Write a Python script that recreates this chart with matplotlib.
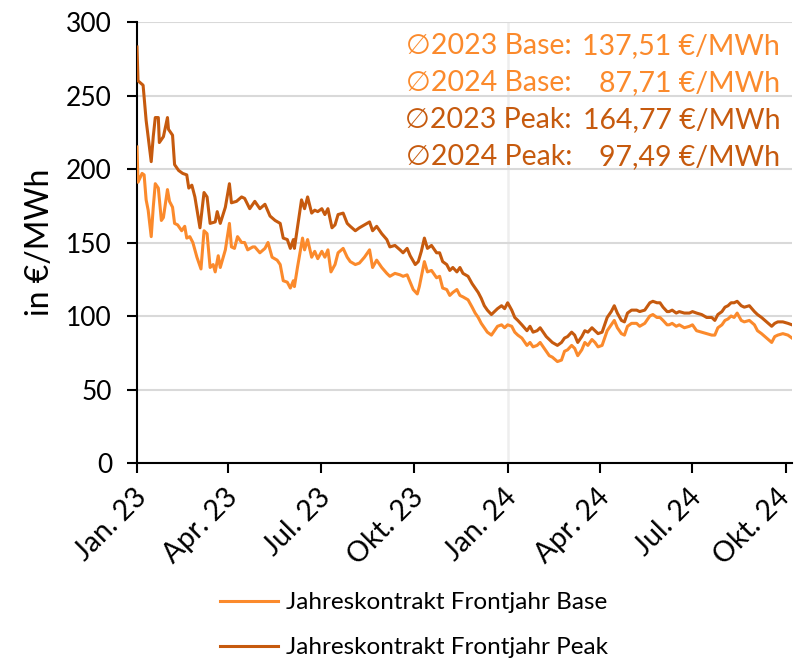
import matplotlib
matplotlib.use("Agg")
import matplotlib.pyplot as plt
import matplotlib.transforms as mtransforms
import numpy as np

# Tage seit 01.01.2023 und Preise in €/MWh
tage_peak = [0, 1, 6, 9, 14, 16, 18, 21, 22, 26, 30, 31, 35, 37, 41, 45, 49, 51, 54, 57,
             62, 66, 69, 72, 77, 79, 82, 87, 91, 93, 98, 103, 106, 111, 116, 121,
             126, 131, 136, 141, 144, 148, 151, 154, 155, 158, 162, 165, 168, 172, 175,
             178, 182, 185, 188, 192, 195, 198, 203, 207, 210, 215, 219, 224, 229, 232,
             236, 241, 246, 249, 254, 259,
             262, 266, 269, 274, 277, 280, 283, 286, 290, 295, 298, 301, 305, 308, 311,
             315, 318, 321, 326, 330, 333, 336, 339, 342, 345, 349, 352, 355, 359, 362,
             365, 369, 372, 375, 379, 384, 387,
             390, 394, 397, 400, 403, 406, 409, 414, 418, 421, 424, 428, 431, 434, 438,
             441, 444, 448, 451, 454, 458, 460, 463, 467, 470, 473, 477, 480, 483, 487, 492,
             495, 500, 505, 508, 512, 515, 518, 522, 524, 527, 531, 534, 539, 544, 547,
             551, 556, 561, 566, 569, 572, 576, 579, 582, 585, 588, 591, 595, 598, 603,
             608, 611, 615, 620, 625, 628, 631, 636, 641, 645]
peak = [283, 260, 257, 233, 205, 222, 235, 235, 218, 222, 235, 227, 223, 203, 199, 197, 196, 187, 189, 181,
        160, 184, 181, 163, 164, 171, 163, 174, 190, 177, 178, 181, 180, 173, 178, 173,
        176, 168, 165, 163, 153, 152, 146, 152, 146, 160, 179, 173, 181, 170, 172,
        171, 173, 169, 173, 160, 162, 169, 170, 163, 161, 158, 160, 162, 164, 158,
        161, 156, 152, 147, 148, 145,
        143, 146, 141, 135, 137, 144, 153, 146, 148, 143, 143, 137, 135, 131, 133,
        130, 133, 129, 127, 122, 119, 116, 112, 107, 104, 101, 103, 105, 107, 105,
        109, 104, 99, 97, 94, 90, 93,
        89, 90, 92, 89, 86, 84, 82, 80, 82, 85, 86, 89, 87, 82, 86,
        90, 89, 92, 90, 88, 89, 93, 99, 103, 107, 102, 97, 96, 102, 104, 104,
        103, 104, 109, 110, 109, 109, 106, 103, 103, 104, 102, 103, 102, 102, 103,
        102, 101, 99, 99, 97, 101, 103, 106, 107, 109, 109, 110, 107, 106, 107,
        103, 101, 99, 96, 93, 95, 96, 96, 95, 94]

tage_base = [0, 1, 5, 7, 9, 11, 14, 16, 18, 21, 24, 26, 30, 32, 35, 37, 40, 44, 47, 49,
             52, 55, 59, 63, 66, 69, 72, 75, 77, 80, 82, 87, 91, 93, 96, 99, 103, 106, 109, 114,
             116, 121, 126, 129, 133, 138, 141, 144, 148, 151, 154, 155, 158, 163, 165,
             168, 172, 175, 178, 182, 185, 188, 191, 195, 198, 203, 207, 210, 215, 219,
             224, 229, 232, 236, 241, 246, 249, 254, 259,
             262, 266, 269, 272, 276, 278, 283, 286, 290, 295, 298, 301, 305, 308, 311,
             315, 318, 321, 326, 330, 333, 336, 339, 342, 345, 349, 352, 355, 359, 362,
             365, 369, 372, 375, 379, 384, 387,
             390, 394, 397, 400, 403, 406, 409, 414, 418, 421, 424, 428, 431, 434, 438,
             441, 444, 448, 451, 454, 458, 460, 463, 467, 470, 473, 477, 480, 483, 487, 492,
             495, 500, 505, 508, 512, 515, 518, 522, 524, 527, 531, 534, 539, 544, 547,
             551, 556, 561, 566, 569, 572, 576, 579, 582, 585, 588, 591, 595, 598, 603,
             608, 611, 615, 620, 625, 628, 631, 636, 641, 645]
base = [215, 191, 197, 196, 179, 172, 154, 174, 190, 187, 165, 167, 186, 178, 174, 163, 162, 158, 161, 153,
        154, 150, 140, 132, 158, 156, 133, 135, 130, 141, 133, 145, 163, 147, 146, 154, 150, 150, 145, 147,
        147, 143, 146, 150, 140, 138, 135, 124, 123, 119, 124, 120, 133, 153, 145,
        152, 140, 144, 139, 144, 140, 145, 130, 135, 143, 146, 140, 137, 135, 136,
        140, 145, 133, 138, 133, 129, 127, 129, 128,
        127, 128, 123, 118, 115, 120, 137, 130, 131, 126, 127, 119, 118, 114, 116,
        118, 114, 113, 111, 106, 102, 99, 95, 92, 89, 87, 90, 93, 94, 92,
        94, 93, 89, 87, 85, 80, 82,
        79, 80, 82, 79, 76, 73, 72, 69, 70, 76, 77, 80, 78, 73, 77,
        82, 80, 84, 82, 79, 80, 84, 90, 94, 97, 92, 88, 87, 93, 95, 95,
        93, 95, 100, 101, 99, 99, 97, 94, 94, 95, 93, 94, 92, 93, 94,
        90, 89, 88, 87, 87, 92, 94, 97, 98, 100, 99, 102, 97, 96, 97,
        94, 90, 88, 85, 82, 86, 87, 88, 87, 85]

tick_monate = ['2023-01-01', '2023-04-01', '2023-07-01', '2023-10-01',
               '2024-01-01', '2024-04-01', '2024-07-01', '2024-10-01']
tick_labels = ['Jan. 23', 'Apr. 23', 'Jul. 23', 'Okt. 23',
               'Jan. 24', 'Apr. 24', 'Jul. 24', 'Okt. 24']

mittelwerte = [('\u22052023 Base:', '137,51 €/MWh', 'base'),
               ('\u22052024 Base:', '87,71 €/MWh', 'base'),
               ('\u22052023 Peak:', '164,77 €/MWh', 'peak'),
               ('\u22052024 Peak:', '97,49 €/MWh', 'peak')]

farbe_base = '#FB8A2C'
farbe_peak = '#C65A0E'
schrift = ['Lato', 'DejaVu Sans']
plt.rcParams['font.family'] = schrift

start = np.datetime64('2023-01-01')
x_base = start + np.array(tage_base).astype('timedelta64[D]')
x_peak = start + np.array(tage_peak).astype('timedelta64[D]')

fig = plt.figure(figsize=(7.94, 6.65), dpi=100)
ax = fig.add_axes([137/794, 1 - 463/665, 655/794, 441/665])

ax.plot(x_base, base, color=farbe_base, lw=2.2, label='Jahreskontrakt Frontjahr Base', zorder=3)
ax.plot(x_peak, peak, color=farbe_peak, lw=2.2, label='Jahreskontrakt Frontjahr Peak', zorder=3)

ax.set_ylim(0, 300)
ax.set_yticks(range(0, 301, 50))
ax.set_xlim(x_peak[0], x_peak[-1])
ax.set_xticks([np.datetime64(m) for m in tick_monate])
ax.grid(axis='y', color='#d9d9d9', lw=1.5, zorder=0)
ax.axvline(np.datetime64('2024-01-01'), color='#eeeeee', lw=1.8, zorder=1)

for s in ['top', 'right']:
    ax.spines[s].set_visible(False)
for s in ['left', 'bottom']:
    ax.spines[s].set_linewidth(1.5)
ax.tick_params(axis='y', labelsize=19, length=7, width=1.5, pad=11)
ax.tick_params(axis='x', labelsize=20.5, length=7, width=1.5, pad=8)
ax.set_xticklabels(tick_labels, rotation=45, ha='right', rotation_mode='anchor')
ax.set_ylabel('in €/MWh', fontsize=23, labelpad=8)

# Beschriftungen etwas nach links, die letzte noch etwas mehr (Bildrand)
xlabels = ax.get_xticklabels()
for i, lbl in enumerate(xlabels):
    dx = -10 if i == len(xlabels) - 1 else -4
    lbl.set_transform(lbl.get_transform() +
                      mtransforms.ScaledTranslation(dx/100, 0, fig.dpi_scale_trans))

y_pos = [0.946, 0.862, 0.777, 0.693]
for (links, rechts, art), y in zip(mittelwerte, y_pos):
    c = farbe_base if art == 'base' else farbe_peak
    ax.text(0.664, y, links, transform=ax.transAxes, ha='right', va='center',
            fontsize=20.5, color=c, family=schrift)
    ax.text(0.982, y, rechts, transform=ax.transAxes, ha='right', va='center',
            fontsize=20.5, color=c, family=schrift)

fig.legend(loc='upper left', bbox_to_anchor=(220/794, 1 - 592/665), frameon=False,
           fontsize=17.5, handlelength=2.4, handletextpad=0.3, labelspacing=1.0,
           borderpad=0, borderaxespad=0)

fig.savefig('out.png', dpi=100)
